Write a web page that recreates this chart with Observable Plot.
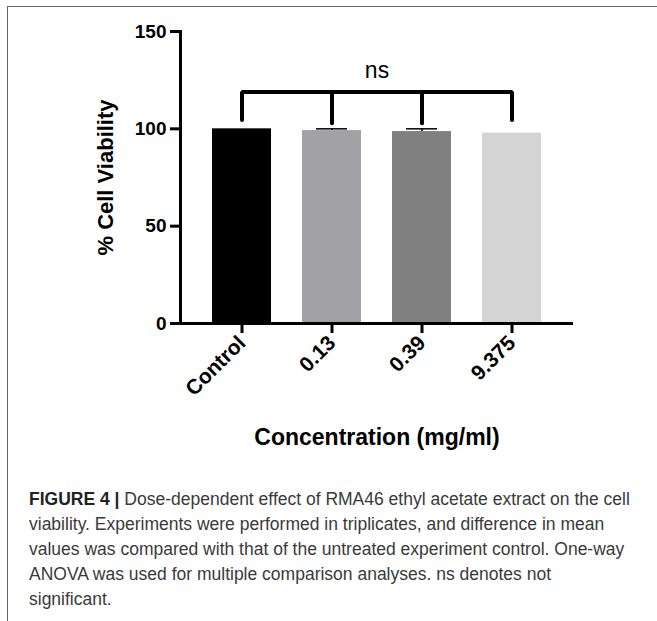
<!DOCTYPE html>
<html><head><meta charset="utf-8">
<script src="https://cdn.jsdelivr.net/npm/d3@7"></script>
<script src="https://cdn.jsdelivr.net/npm/@observablehq/plot@0.6"></script>
<style>
html,body{margin:0;padding:0;background:#fff;}
body{width:657px;height:621px;position:relative;overflow:hidden;font-family:"Liberation Sans",Arial,sans-serif;}
#frame{position:absolute;left:7px;top:6px;right:-4px;bottom:-4px;border-left:1.5px solid #666;border-top:1.5px solid #666;}
#chart{position:absolute;left:0;top:0;}
#caption{position:absolute;left:29px;top:487px;font-size:17.5px;line-height:25px;color:#3a3a3a;white-space:nowrap;}
#caption b{color:#222;}
</style></head><body>
<div id="frame"></div>
<div id="chart"></div>
<div id="caption"></div>
<script>
// ---- data ----
const categories = ["Control", "0.13", "0.39", "9.375"];
const means = [100, 99.1, 98.6, 97.8];
const errors = [0, 0.9, 1.4, 0];
const barColors = ["#000000", "#a2a2a6", "#808080", "#d4d4d4"];
const yTicks = [0, 50, 100, 150];
const yDomain = [0, 150];
const bracketTop = 118.9;
const bracketDrops = [104.6, 102.9, 102.9, 104.6];
const sigLabel = "ns";
const sigLabelY = 130;
const yLabel = "% Cell Viability";
const xLabel = "Concentration (mg/ml)";
const captionBold = "FIGURE 4 |";
const captionLines = [
  " Dose-dependent effect of RMA46 ethyl acetate extract on the cell",
  "viability. Experiments were performed in triplicates, and difference in mean",
  "values was compared with that of the untreated experiment control. One-way",
  "ANOVA was used for multiple comparison analyses. ns denotes not",
  "significant."
];

const rows = categories.map((c, i) => ({cat: c, mean: means[i], err: errors[i], color: barColors[i], drop: bracketDrops[i]}));
const errRows = rows.filter(d => d.err > 0);
const outer = [rows[0], rows[rows.length - 1]];
const bracketPath = [
  {cat: outer[0].cat, y: outer[0].drop},
  {cat: outer[0].cat, y: bracketTop},
  {cat: outer[1].cat, y: bracketTop},
  {cat: outer[1].cat, y: outer[1].drop}
];
const inner = rows.slice(1, -1);

const chart = Plot.plot({
  width: 657,
  height: 470,
  marginLeft: 180,
  marginRight: 84,
  marginTop: 31,
  marginBottom: 147,
  style: {fontFamily: "'Liberation Sans', Arial, sans-serif", color: "#000", background: "transparent"},
  x: {domain: categories, paddingInner: 0.344, paddingOuter: 0.352},
  y: {domain: yDomain},
  color: {type: "identity"},
  marks: [
    Plot.barY(rows, {x: "cat", y: "mean", fill: "color"}),
    Plot.ruleX(errRows, {x: "cat", y1: "mean", y2: d => d.mean + d.err, stroke: "#000", strokeWidth: 1.5}),
    Plot.tickY(errRows, {x: "cat", y: d => d.mean + d.err, stroke: "#000", strokeWidth: 1.5, insetLeft: 14, insetRight: 14}),
    Plot.line(bracketPath, {x: "cat", y: "y", stroke: "#000", strokeWidth: 4, strokeLinecap: "round", strokeLinejoin: "miter"}),
    Plot.link(inner, {x1: "cat", x2: "cat", y1: () => bracketTop, y2: "drop", stroke: "#000", strokeWidth: 4, strokeLinecap: "round"}),
    Plot.text([sigLabel], {y: () => sigLabelY, text: d => d, fontSize: 23, fill: "#000"}),
    Plot.axisY({ticks: yTicks, tickSize: 10, tickPadding: 4, strokeWidth: 3, fontSize: 19, fontWeight: "bold", label: null}),
    Plot.axisX({tickSize: 10, tickPadding: 6, strokeWidth: 3, tickRotate: -45, fontSize: 21, fontWeight: "bold", label: null}),
    Plot.frame({anchor: "left", stroke: "#000", strokeWidth: 3}),
    Plot.ruleY([0], {stroke: "#000", strokeWidth: 3}),
    Plot.text([yLabel], {frameAnchor: "left", dx: -75, rotate: -90, textAnchor: "middle", text: d => d, fontSize: 22, fontWeight: "bold", fill: "#000"}),
    Plot.text([xLabel], {frameAnchor: "bottom", dy: 121, text: d => d, fontSize: 23, fontWeight: "bold", fill: "#000"})
  ]
});
document.getElementById("chart").appendChild(chart);

const cap = document.getElementById("caption");
const b = document.createElement("b");
b.textContent = captionBold;
cap.appendChild(b);
captionLines.forEach((line, i) => {
  if (i > 0) cap.appendChild(document.createElement("br"));
  cap.appendChild(document.createTextNode(line));
});
</script>
</body></html>
